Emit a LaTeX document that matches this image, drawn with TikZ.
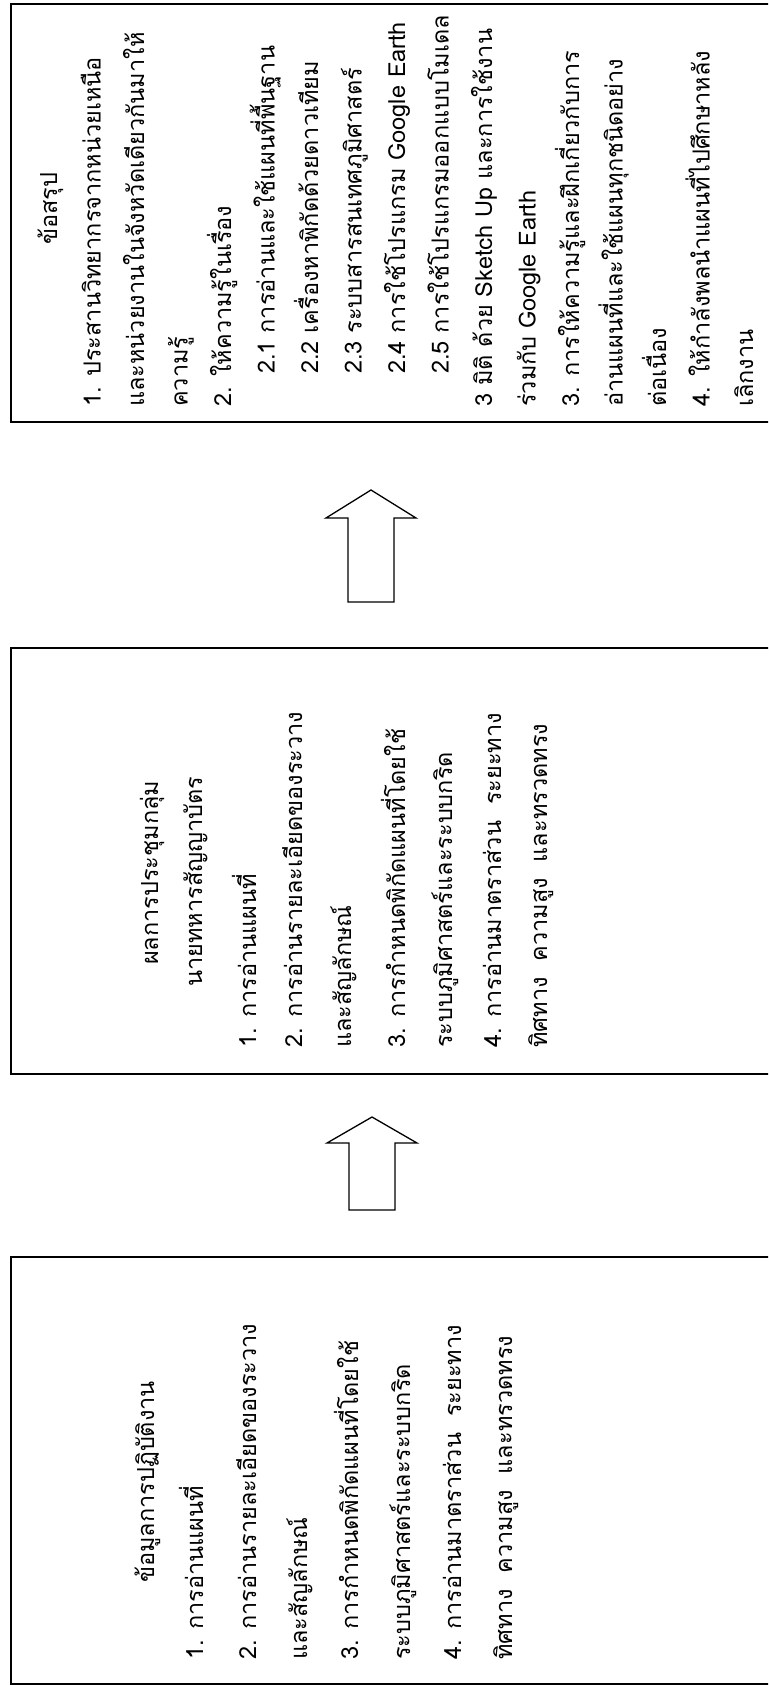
\documentclass[tikz,border=0pt]{standalone}
\usepackage{fontspec}
\newfontfamily\thaifont[Script=Thai]{Loma}
\usetikzlibrary{calc}

\tikzset{
  panel/.style={draw, line width=1.6pt, anchor=north west, minimum width=790pt, inner sep=0pt},
  txtline/.style={rotate=90, anchor=base west, inner sep=0pt, font=\thaifont\fontsize{23.5}{28}\selectfont},
  blockarrow/.style={draw, line width=1.3pt, line join=miter, fill=white}
}

\begin{document}
\begin{tikzpicture}[x=1pt, y=-1pt]
  \useasboundingbox (0,0) rectangle (768,1685);
  \clip (0,0) rectangle (768,1685);

  % three panels, read from bottom to top
  \node[panel, minimum height=418pt] (summary) at (10,3) {};
  \node[panel, minimum height=426pt] (meeting) at (10,647) {};
  \node[panel, minimum height=427pt] (fieldwork) at (10,1256) {};

  % arrows between panels
  \coordinate (tail1) at (371,602);
  \draw[blockarrow] (tail1) ++(-23,0) -- ++(0,-84) -- ++(-22,0) -- ++(45,-28) -- ++(45,28) -- ++(-22,0) -- ++(0,84) -- cycle;
  \coordinate (tail2) at (372,1210);
  \draw[blockarrow] (tail2) ++(-23,0) -- ++(0,-67) -- ++(-22,0) -- ++(45,-26) -- ++(45,26) -- ++(-22,0) -- ++(0,67) -- cycle;

  % summary panel
  \foreach \s/\t [count=\i] in {
      245/{ข้อสรุป},
      407/{1. ประสานวิทยากรจากหน่วยเหนือ},
      407/{และหน่วยงานในจังหวัดเดียวกันมาให้},
      407/{ความรู้},
      407/{2. ให้ความรู้ในเรื่อง},
      374/{2.1 การอ่านและใช้แผนที่พื้นฐาน},
      374/{2.2 เครื่องหาพิกัดด้วยดาวเทียม},
      374/{2.3 ระบบสารสนเทศภูมิศาสตร์},
      374/{2.4 การใช้โปรแกรม Google Earth},
      374/{2.5 การใช้โปรแกรมออกแบบโมเดล},
      407/{3 มิติ ด้วย Sketch Up และการใช้งาน},
      407/{ร่วมกับ Google Earth},
      407/{3. การให้ความรู้และฝึกเกี่ยวกับการ},
      407/{อ่านแผนที่และใช้แผนทุกชนิดอย่าง},
      407/{ต่อเนื่อง},
      407/{4. ให้กำลังพลนำแผนที่ไปศึกษาหลัง},
      407/{เลิกงาน}}
    \node[txtline] (sum\i) at ({57+43.5*(\i-1)},\s) {\t};

  % meeting panel
  \foreach \c/\s/\t [count=\i] in {
      150/965/{ผลการประชุมกลุ่ม},
      194/987/{นายทหารสัญญาบัตร},
      248/1048/{1. การอ่านแผนที่},
      294/1048/{2. การอ่านรายละเอียดของระวาง},
      343/1048/{และสัญลักษณ์},
      397/1048/{3. การกำหนดพิกัดแผนที่โดยใช้},
      444/1048/{ระบบภูมิศาสตร์และระบบกริด},
      493/1048/{4. การอ่านมาตราส่วน~~ระยะทาง},
      539/1048/{ทิศทาง~~ความสูง~~และทรวดทรง}}
    \node[txtline] (meet\i) at (\c+8,\s) {\t};

  % fieldwork panel
  \foreach \c/\s/\t [count=\i] in {
      146/1583/{ข้อมูลการปฏิบัติงาน},
      195/1660/{1. การอ่านแผนที่},
      248/1660/{2. การอ่านรายละเอียดของระวาง},
      299/1660/{และสัญลักษณ์},
      350/1660/{3. การกำหนดพิกัดแผนที่โดยใช้},
      402/1660/{ระบบภูมิศาสตร์และระบบกริด},
      453/1660/{4. การอ่านมาตราส่วน~~ระยะทาง},
      504/1660/{ทิศทาง~~ความสูง~~และทรวดทรง}}
    \node[txtline] (field\i) at (\c+8,\s) {\t};
\end{tikzpicture}
\end{document}
